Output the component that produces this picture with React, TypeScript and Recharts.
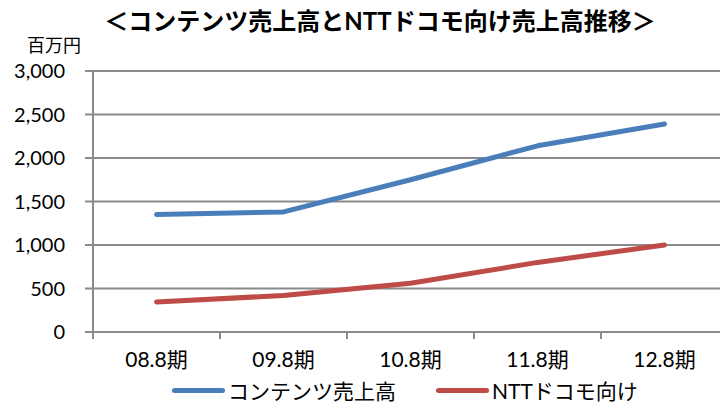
// コンテンツ売上高とNTTドコモ向け売上高推移（折れ線）

import { LineChart, Line, XAxis, YAxis, CartesianGrid } from 'recharts';

const KIKAN = ['08.8期', '09.8期', '10.8期', '11.8期', '12.8期'];
const CONTENTS = [1350, 1380, 1750, 2140, 2390];
const DOCOMO = [345, 420, 560, 800, 1000];
const Y_TICKS = [0, 500, 1000, 1500, 2000, 2500, 3000];

const AO = '#4A7EBB';
const AKA = '#BE4B48';
const GRIS = '#8a8a8a';
const FUENTE = "Lato, 'Noto Sans CJK JP', sans-serif";

const dados = KIKAN.map((k, i) => ({ kikan: k, contents: CONTENTS[i], docomo: DOCOMO[i] }));

function TickX(props: any) {
  const { x, y, payload, width, visibleTicksCount } = props;
  const banda = width / visibleTicksCount;
  return (
    <g>
      <line x1={x - banda / 2} x2={x - banda / 2} y1={y} y2={y + 7} stroke={GRIS} strokeWidth={2} />
      <text x={x} y={y + 35} textAnchor="middle" fontSize={21} fill="#000" fontFamily={FUENTE}>{payload.value}</text>
    </g>
  );
}

export default function App() {
  return (
    <div style={{ position: 'fixed', left: 0, top: 0, width: 720, height: 403, overflow: 'hidden', background: '#fff', fontFamily: FUENTE }}>
      <div style={{ position: 'absolute', left: 0, width: 760, top: 6, textAlign: 'center', fontSize: 24, fontWeight: 700, lineHeight: '30px' }}>
        ＜コンテンツ売上高とNTTドコモ向け売上高推移＞
      </div>
      <div style={{ position: 'absolute', left: 27, top: 33, fontSize: 18, lineHeight: '24px' }}>百万円</div>
      <LineChart width={728} height={403} data={dados} margin={{ top: 71, right: 0, bottom: 0, left: 0 }}>
        <CartesianGrid vertical={false} stroke={GRIS} strokeWidth={2} />
        <XAxis dataKey="kikan" scale="band" height={71} tick={<TickX />} tickLine={false} tickSize={0} tickMargin={0}
          axisLine={{ stroke: GRIS, strokeWidth: 2 }} interval={0} />
        <YAxis domain={[0, 3000]} ticks={Y_TICKS} width={93} tickSize={8} tickMargin={20}
          tickFormatter={(v: number) => v.toLocaleString('en-US')}
          tick={{ fontSize: 20, fill: '#000', fontFamily: FUENTE }}
          tickLine={{ stroke: GRIS, strokeWidth: 2 }} axisLine={{ stroke: GRIS, strokeWidth: 2 }} />
        <Line type="linear" dataKey="contents" stroke={AO} strokeWidth={5} strokeLinecap="round" strokeLinejoin="round" dot={false} isAnimationActive={false} />
        <Line type="linear" dataKey="docomo" stroke={AKA} strokeWidth={5} strokeLinecap="round" strokeLinejoin="round" dot={false} isAnimationActive={false} />
      </LineChart>
      <div style={{ position: 'absolute', left: 172, top: 377, display: 'flex', alignItems: 'center', fontSize: 21, lineHeight: '27px' }}>
        <span style={{ display: 'inline-block', width: 53, height: 5, borderRadius: 3, background: AO, marginRight: 3 }} />
        <span>コンテンツ売上高</span>
        <span style={{ display: 'inline-block', width: 53, height: 5, borderRadius: 3, background: AKA, marginLeft: 40, marginRight: 3 }} />
        <span>NTTドコモ向け</span>
      </div>
    </div>
  );
}
